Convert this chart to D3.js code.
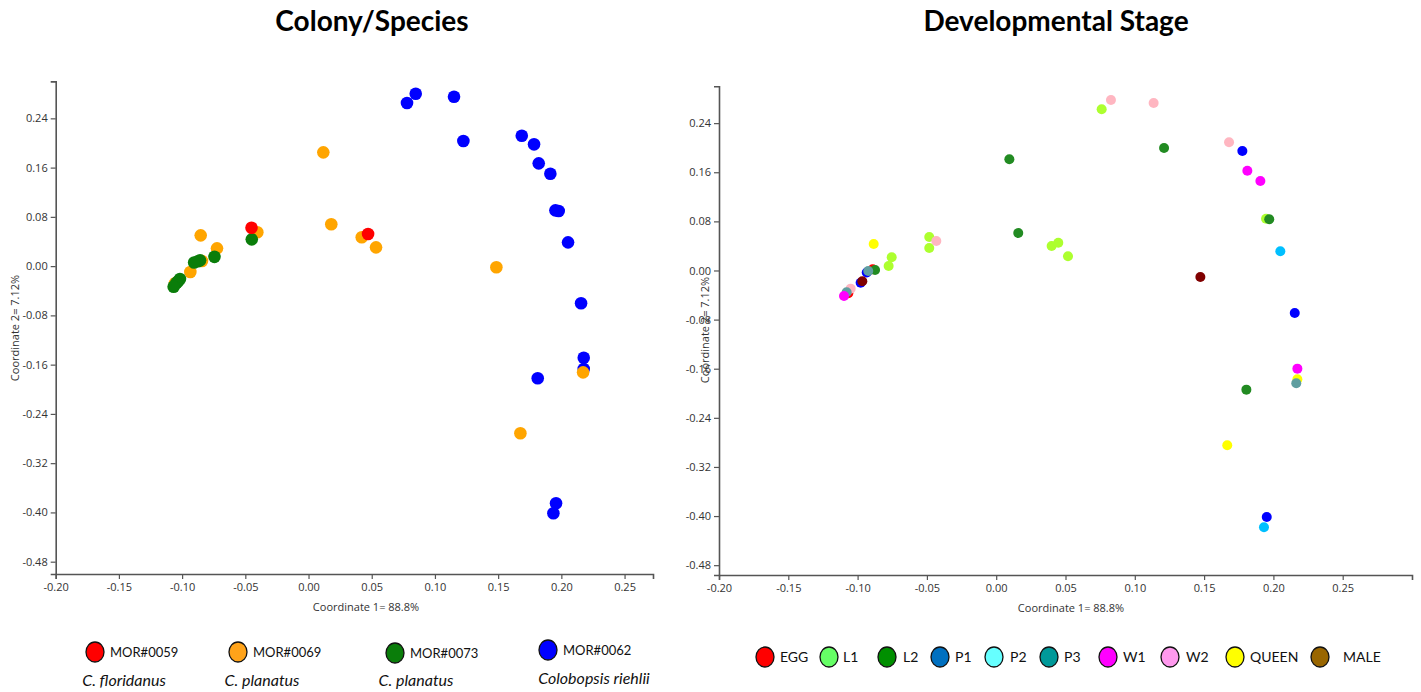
<!DOCTYPE html>
<html>
<head>
<meta charset="utf-8">
<script src="https://cdn.jsdelivr.net/npm/d3@7"></script>
<style>
  body { margin: 0; background: #fff; }
  svg { display: block; }
  .tick text { font-family: "Open Sans", "Noto Sans", sans-serif; font-size: 11px; fill: #333; }
</style>
</head>
<body>
<svg id="chart" width="1421" height="692"></svg>
<script>
// ---------------- DATA ----------------
const xTicks = [-0.20, -0.15, -0.10, -0.05, 0.00, 0.05, 0.10, 0.15, 0.20, 0.25];
const yTicks = [-0.48, -0.40, -0.32, -0.24, -0.16, -0.08, 0.00, 0.08, 0.16, 0.24];

// Colony / species panel
const colonyNames   = ["MOR#0059", "MOR#0069", "MOR#0073", "MOR#0062"];
const colonySpecies = ["C. floridanus", "C. planatus", "C. planatus", "Colobopsis riehlii"];
const colonyColors  = ["#ff0000", "#ffa500", "#0a7d0a", "#0000ff"];
const colonyLegendColors = ["#ff0000", "#ffa31a", "#0a7d0a", "#0000ff"];

const mor0059 = [[-0.0451, 0.0624], [0.0471, 0.0521]];
const mor0069 = [[0.0117, 0.1848], [0.0180, 0.0679], [0.0421, 0.0468], [0.0534, 0.0305],
                 [0.1486, -0.0019], [0.2172, -0.1725], [0.1676, -0.2715], [-0.0405, 0.0549],
                 [-0.0853, 0.0500], [-0.0724, 0.0289], [-0.0843, 0.0083], [-0.0935, -0.0096],
                 [-0.1056, -0.0279]];
const mor0073 = [[-0.0449, 0.0435], [-0.0744, 0.0151], [-0.0858, 0.0094], [-0.0875, 0.0080],
                 [-0.0905, 0.0060], [-0.1017, -0.0209], [-0.1033, -0.0250], [-0.1045, -0.0274],
                 [-0.1067, -0.0335]];
const mor0062 = [[0.0779, 0.2649], [0.0848, 0.2800], [0.1151, 0.2751], [0.1225, 0.2032],
                 [0.1687, 0.2118], [0.1784, 0.1978], [0.1821, 0.1669], [0.1913, 0.1501],
                 [0.1953, 0.0906], [0.1979, 0.0895], [0.2053, 0.0386], [0.2156, -0.0604],
                 [0.2177, -0.1488], [0.2177, -0.1671], [0.1813, -0.1822], [0.1958, -0.3852],
                 [0.1937, -0.4014]];
const colonyPoints = [mor0059, mor0069, mor0073, mor0062];
const colonyDrawOrder = [3, 1, 2, 0];

// Developmental stage panel
const stageNames = ["EGG", "L1", "L2", "P1", "P2", "P3", "W1", "W2", "QUEEN", "MALE"];
const stageLegendColors = ["#ff0000", "#66ff66", "#008f00", "#0070c0", "#66ffff", "#009999",
                           "#ff00ff", "#ff99ee", "#ffff00", "#996600"];
const stagePointColors  = ["#ff0000", "#adff2f", "#228b22", "#0000ff", "#00bfff", "#5f9ea0",
                           "#ff00ff", "#ffb6c1", "#ffff00", "#800000"];
const eggPts   = [[-0.0891, 0.0020], [-0.1067, -0.0371]];
const l1Pts    = [[-0.0754, 0.0215], [-0.0776, 0.0073], [-0.0483, 0.0546], [-0.0483, 0.0366],
                  [0.0400, 0.0399], [0.0448, 0.0453], [0.0518, 0.0231], [0.0761, 0.2625],
                  [0.1947, 0.0844]];
const l2Pts    = [[0.0095, 0.1811], [0.0159, 0.0611], [-0.0874, 0.0008], [0.1211, 0.1995],
                  [0.1970, 0.0834], [0.1805, -0.1941]];
const p1Pts    = [[-0.0934, -0.0033], [-0.0978, -0.0199], [0.1776, 0.1946], [0.2154, -0.0692],
                  [0.1952, -0.4015]];
const p2Pts    = [[0.2050, 0.0313], [0.1932, -0.4182]];
const p3Pts    = [[-0.0923, -0.0008], [-0.1079, -0.0355], [0.2165, -0.1837]];
const w1Pts    = [[-0.1098, -0.0415], [0.1812, 0.1625], [0.1906, 0.1458], [0.2173, -0.1599]];
const w2Pts    = [[-0.1050, -0.0296], [0.0828, 0.2777], [0.1136, 0.2728], [0.1680, 0.2088],
                  [-0.0432, 0.0480]];
const queenPts = [[-0.0884, 0.0432], [0.2173, -0.1772], [0.1667, -0.2847]];
const malePts  = [[0.1473, -0.0106], [-0.0966, -0.0176]];
const stagePoints = [eggPts, l1Pts, l2Pts, p1Pts, p2Pts, p3Pts, w1Pts, w2Pts, queenPts, malePts];
const stageDrawOrder = [1, 0, 2, 3, 4, 8, 9, 7, 5, 6];

// ---------------- DRAW ----------------
const svg = d3.select("#chart");
const fmt = d => d.toFixed(2);
const uiFont = '"Open Sans", "Noto Sans", sans-serif';
const titleFont = 'Lato, "Open Sans", sans-serif';

function panel(cfg) {
  const x = d3.scaleLinear().domain(cfg.xDomain).range(cfg.xRange);
  const y = d3.scaleLinear().domain(cfg.yDomain).range(cfg.yRange);
  const g = svg.append("g");

  const xAxis = g.append("g")
    .attr("transform", `translate(0,${cfg.yRange[0]})`)
    .call(d3.axisBottom(x).tickValues(xTicks).tickFormat(fmt).tickSizeOuter(0).tickSize(5).tickPadding(4));
  const yAxis = g.append("g")
    .attr("transform", `translate(${cfg.xRange[0]},0)`)
    .call(d3.axisLeft(y).tickValues(yTicks).tickFormat(fmt).tickSizeOuter(0).tickSize(5).tickPadding(3));
  [xAxis, yAxis].forEach(a => {
    a.select(".domain").attr("stroke", "#555").attr("stroke-width", 1.6);
    a.selectAll(".tick line").attr("stroke", "#555").attr("stroke-width", 1.2);
  });

  g.append("text")
    .attr("x", cfg.xLabelX).attr("y", cfg.xLabelY)
    .attr("text-anchor", "middle")
    .attr("font-family", uiFont).attr("font-size", 11).attr("fill", "#333")
    .text("Coordinate 1= 88.8%");
  g.append("text")
    .attr("transform", `translate(${cfg.yLabelX},${cfg.yLabelY}) rotate(-90)`)
    .attr("text-anchor", "middle")
    .attr("font-family", uiFont).attr("font-size", 11).attr("fill", "#333")
    .text("Coordinate 2= 7.12%");

  g.append("text")
    .attr("x", cfg.titleX).attr("y", 31)
    .attr("text-anchor", "middle")
    .attr("font-family", titleFont).attr("font-weight", "bold").attr("font-size", 28)
    .attr("fill", "#000")
    .text(cfg.title);

  cfg.order.forEach(i => {
    g.append("g").selectAll("circle")
      .data(cfg.points[i])
      .join("circle")
      .attr("cx", d => x(d[0]))
      .attr("cy", d => y(d[1]))
      .attr("r", cfg.r)
      .attr("fill", cfg.colors[i]);
  });
  return g;
}

panel({
  xDomain: [-0.20, 0.2725], xRange: [55.7, 653],
  yDomain: [-0.5, 0.30], yRange: [574, 81.4],
  points: colonyPoints, colors: colonyColors, order: colonyDrawOrder, r: 6.3,
  title: "Colony/Species", titleX: 372,
  xLabelX: 366, xLabelY: 611, yLabelX: 19, yLabelY: 328
});

panel({
  xDomain: [-0.20, 0.30], xRange: [719, 1412],
  yDomain: [-0.496, 0.30], yRange: [575, 86.3],
  points: stagePoints, colors: stagePointColors, order: stageDrawOrder, r: 5,
  title: "Developmental Stage", titleX: 1056,
  xLabelX: 1071, xLabelY: 612, yLabelX: 709, yLabelY: 330
});

// ---------------- LEGENDS ----------------
const colonyLegendX = [95, 238, 395, 548];
const colonyLegendY = [652, 652, 653, 650];
const speciesX = [124, 262, 416, 594];
const leg1 = svg.append("g");
colonyNames.forEach((name, i) => {
  leg1.append("ellipse")
    .attr("cx", colonyLegendX[i]).attr("cy", colonyLegendY[i])
    .attr("rx", 9).attr("ry", 10)
    .attr("fill", colonyLegendColors[i]).attr("stroke", "#111").attr("stroke-width", 1.3);
  leg1.append("text")
    .attr("x", colonyLegendX[i] + 15).attr("y", colonyLegendY[i] + 5)
    .attr("font-family", titleFont).attr("font-size", 13).attr("fill", "#111")
    .text(name);
  leg1.append("text")
    .attr("x", speciesX[i]).attr("y", i === 3 ? 684 : 686)
    .attr("text-anchor", "middle")
    .attr("font-family", titleFont).attr("font-style", "italic").attr("font-size", 16).attr("fill", "#111")
    .text(colonySpecies[i]);
});

const stageLegendX = [765, 829, 887, 940, 994, 1049, 1108, 1170, 1235, 1320];
const stageTextX   = [780, 843, 903, 955, 1010, 1064, 1123, 1186, 1250, 1343];
const leg2 = svg.append("g");
stageNames.forEach((name, i) => {
  leg2.append("ellipse")
    .attr("cx", stageLegendX[i]).attr("cy", 657)
    .attr("rx", 9).attr("ry", 10)
    .attr("fill", stageLegendColors[i]).attr("stroke", "#111").attr("stroke-width", 1.3);
  leg2.append("text")
    .attr("x", stageTextX[i]).attr("y", 662)
    .attr("font-family", titleFont).attr("font-size", 14).attr("fill", "#111")
    .text(name);
});
</script>
</body>
</html>
